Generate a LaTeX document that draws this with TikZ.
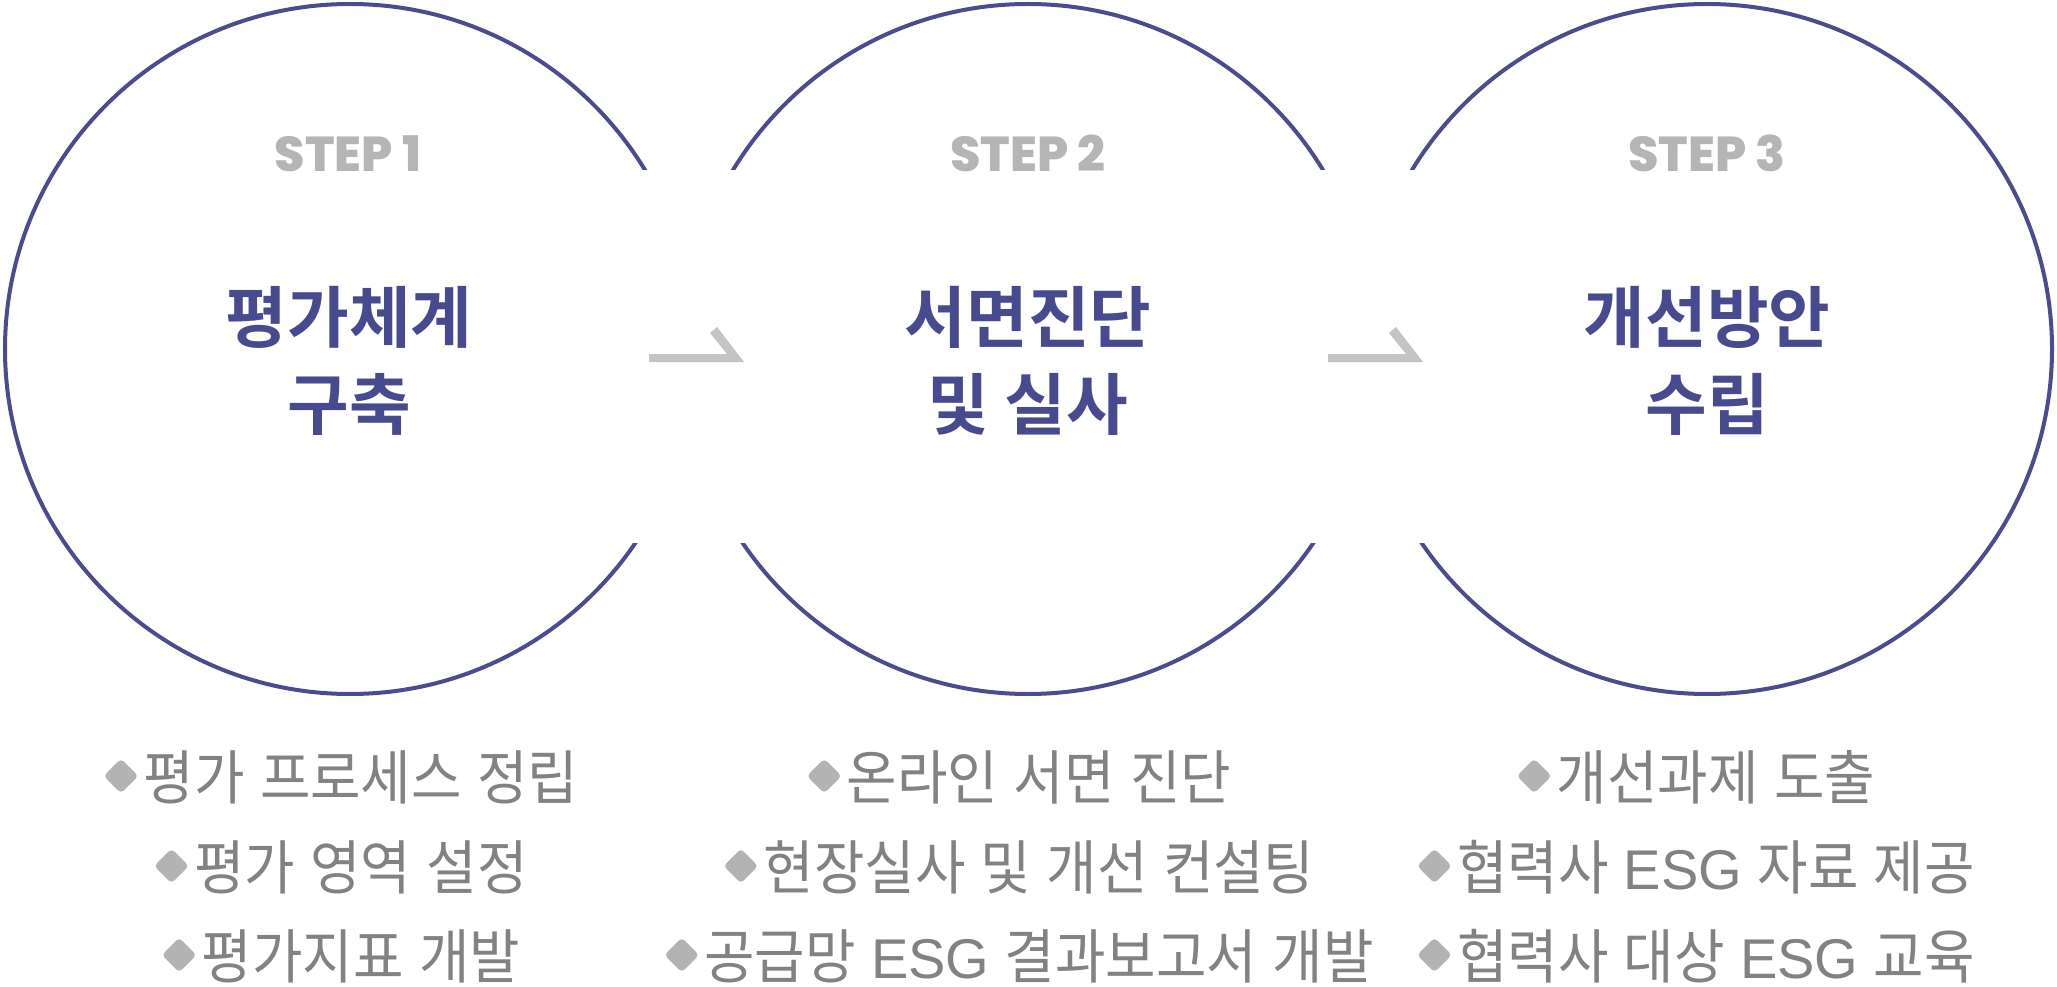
\documentclass[tikz,border=0pt]{standalone}
\usepackage{fontspec}
\newfontfamily\stepfont{Poppins ExtraBold}
\newfontfamily\titlefont{Noto Sans CJK KR Bold}
\newfontfamily\bulfont{Noto Sans CJK KR}[FakeStretch=0.93, WordSpace=1.25]
\newfontfamily\latinfont{Liberation Sans}
\definecolor{ringc}{RGB}{74,76,143}
\definecolor{titlec}{RGB}{72,74,143}
\definecolor{stepc}{RGB}{181,181,181}
\definecolor{bulc}{RGB}{130,130,130}
\definecolor{dotc}{RGB}{179,179,179}
\definecolor{arrc}{RGB}{196,196,196}
\newcommand\esgword{{\latinfont\fontsize{56}{56}\selectfont ESG}}
\begin{document}
\begin{tikzpicture}[x=1pt,y=-1pt,
  ring/.style={circle, draw=ringc, line width=4pt, minimum size=690pt, inner sep=0pt},
  steplbl/.style={font=\stepfont\fontsize{49}{49}\selectfont, text=stepc, anchor=base, inner sep=0pt},
  titlelbl/.style={font=\titlefont\fontsize{67}{67}\selectfont, text=titlec, anchor=base, inner sep=0pt},
  bultext/.style={font=\bulfont\fontsize{59}{59}\selectfont, text=bulc, anchor=base, inner sep=0pt},
  bulmark/.style={rectangle, fill=dotc, rounded corners=4pt, minimum size=24.5pt, inner sep=0pt, rotate=45},
  gapfill/.style={fill=white},
  arrowshape/.style={fill=arrc}
]
\useasboundingbox (0,0) rectangle (2057,987);
\fill[white] (0,0) rectangle (2057,987);

% circles
\node[ring] (c1) at (350,349) {};
\node[ring] (c2) at (1028,349) {};
\node[ring] (c3) at (1707,349) {};

% openings between the circles
\fill[gapfill] (612,170) rectangle (768,543);
\fill[gapfill] (1291,170) rectangle (1447,543);

% arrows
\coordinate (arr1) at (649,354);
\coordinate (arr2) at (1328,354);
\foreach \a in {arr1,arr2}{
  \fill[arrowshape, shift={(\a)}] (0,0) -- (78,0) -- (61,-21) -- (68,-27) -- (95,8) -- (0,8) -- cycle;
}

% step labels
\node[steplbl] (s1) at (348,172) {STEP 1};
\node[steplbl] (s2) at (1028,172) {STEP 2};
\node[steplbl] (s3) at (1707,172) {STEP 3};

% titles
\node[titlelbl] (t1a) at (349,342) {평가체계};
\node[titlelbl] (t1b) at (349,429) {구축};
\node[titlelbl] (t2a) at (1028,342) {서면진단};
\node[titlelbl] (t2b) at (1028,429) {및 실사};
\node[titlelbl] (t3a) at (1707,342) {개선방안};
\node[titlelbl] (t3b) at (1707,429) {수립};

% bullet lists
\node[bultext] (b11) at (361,799) {평가 프로세스 정립};
\node[bultext] (b12) at (361,889) {평가 영역 설정};
\node[bultext] (b13) at (361,978) {평가지표 개발};
\node[bultext] (b21) at (1039,799) {온라인 서면 진단};
\node[bultext] (b22) at (1039,889) {현장실사 및 개선 컨설팅};
\node[bultext] (b23) at (1039,978) {공급망 \esgword{} 결과보고서 개발};
\node[bultext] (b31) at (1716,799) {개선과제 도출};
\node[bultext] (b32) at (1716,889) {협력사 \esgword{} 자료 제공};
\node[bultext] (b33) at (1716,978) {협력사 대상 \esgword{} 교육};

\foreach \b in {b11,b12,b13,b21,b22,b23,b31,b32,b33}{
  \node[bulmark] (m\b) at ([xshift=-22.5pt,yshift=23pt]\b.base west) {};
}
\end{tikzpicture}
\end{document}
